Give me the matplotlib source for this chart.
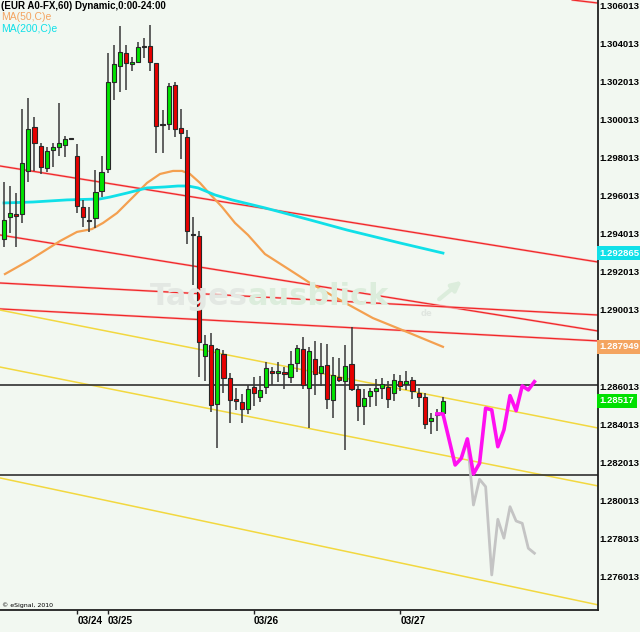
import numpy as np
import matplotlib
matplotlib.use('Agg')
import matplotlib.pyplot as plt
from matplotlib.transforms import ScaledTranslation

# hourly EUR/USD candles (open, high, low, close)
opens = [1.29361, 1.29476, 1.29492, 1.29492, 1.29718, 1.29949, 1.29849, 1.29734, 1.29828, 1.29844,
         1.29854, 1.29886, 1.29797, 1.29529, 1.29455, 1.29471, 1.29613, 1.29728, 1.30185, 1.30269,
         1.30337, 1.30279, 1.30290, 1.30368, 1.30374, 1.30284, 1.29959, 1.29964, 1.30169, 1.29943,
         1.29896, 1.29382, 1.29377, 1.28747, 1.28805, 1.28495, 1.28758, 1.28632, 1.28521, 1.28506,
         1.28469, 1.28584, 1.28532, 1.28584, 1.28668, 1.28658, 1.28663, 1.28637, 1.28710, 1.28784,
         1.28579, 1.28731, 1.28658, 1.28700, 1.28516, 1.28637, 1.28616, 1.28705, 1.28574, 1.28485,
         1.28537, 1.28563, 1.28579, 1.28584, 1.28553, 1.28616, 1.28600, 1.28621, 1.28553, 1.28532,
         1.28406, 1.28437, 1.28448]
highs = [1.29660, 1.29639, 1.29602, 1.30043, 1.30101, 1.30001, 1.29865, 1.29844, 1.29865, 1.30075,
         1.29901, 1.29886, 1.29859, 1.29566, 1.29529, 1.29723, 1.29797, 1.30337, 1.30379, 1.30479,
         1.30379, 1.30316, 1.30395, 1.30416, 1.30484, 1.30284, 1.30038, 1.30179, 1.30185, 1.30043,
         1.29933, 1.29476, 1.29403, 1.28857, 1.28868, 1.28789, 1.28779, 1.28658, 1.28579, 1.28548,
         1.28595, 1.28637, 1.28642, 1.28716, 1.28689, 1.28716, 1.28689, 1.28773, 1.28805, 1.28847,
         1.28794, 1.28826, 1.28815, 1.28810, 1.28742, 1.28737, 1.28805, 1.28899, 1.28590, 1.28574,
         1.28579, 1.28626, 1.28632, 1.28616, 1.28653, 1.28647, 1.28668, 1.28637, 1.28579, 1.28553,
         1.28448, 1.28469, 1.28532]
lows = [1.29319, 1.29392, 1.29319, 1.29445, 1.29660, 1.29718, 1.29702, 1.29713, 1.29739, 1.29797,
        1.29791, 1.29886, 1.29497, 1.29424, 1.29398, 1.29419, 1.29581, 1.29707, 1.30090, 1.30132,
        1.30143, 1.30242, 1.30284, 1.30311, 1.30242, 1.29812, 1.29812, 1.29933, 1.29896, 1.29781,
        1.29335, 1.29120, 1.28637, 1.28616, 1.28453, 1.28264, 1.28553, 1.28395, 1.28464, 1.28395,
        1.28443, 1.28485, 1.28506, 1.28548, 1.28595, 1.28611, 1.28574, 1.28605, 1.28663, 1.28574,
        1.28369, 1.28542, 1.28590, 1.28469, 1.28422, 1.28611, 1.28254, 1.28563, 1.28406, 1.28385,
        1.28479, 1.28485, 1.28521, 1.28474, 1.28511, 1.28563, 1.28569, 1.28521, 1.28479, 1.28364,
        1.28338, 1.28354, 1.28422]
closes = [1.29461, 1.29497, 1.29482, 1.29760, 1.29938, 1.29865, 1.29739, 1.29823, 1.29844, 1.29865,
          1.29886, 1.29886, 1.29534, 1.29476, 1.29455, 1.29608, 1.29713, 1.30185, 1.30279, 1.30342,
          1.30284, 1.30290, 1.30368, 1.30368, 1.30290, 1.29954, 1.29959, 1.30164, 1.29938, 1.29917,
          1.29403, 1.29382, 1.28821, 1.28810, 1.28490, 1.28784, 1.28632, 1.28516, 1.28511, 1.28469,
          1.28574, 1.28553, 1.28569, 1.28684, 1.28658, 1.28668, 1.28653, 1.28705, 1.28789, 1.28595,
          1.28773, 1.28653, 1.28695, 1.28521, 1.28647, 1.28621, 1.28695, 1.28574, 1.28485, 1.28527,
          1.28563, 1.28579, 1.28600, 1.28521, 1.28621, 1.28590, 1.28616, 1.28563, 1.28532, 1.28390,
          1.28422, 1.28443, 1.28511]

# moving averages (bar index, value)
ma50_t = [0.16, 4.26, 9.18, 11.97, 14.43, 16.24, 18.53, 21.16, 23.45, 25.59, 27.72, 29.2, 30.5,
          32.15, 33.46, 35.76, 37.89, 40.02, 42.8, 46.9, 50.19, 55.1, 60.5, 66.1, 72.0]
ma50 = [1.29177, 1.29251, 1.29350, 1.29398, 1.29413, 1.29445, 1.29497, 1.29581, 1.29655, 1.29702,
        1.29718, 1.29718, 1.29702, 1.29655, 1.29608, 1.29529, 1.29445, 1.29382, 1.29282, 1.29198,
        1.29130, 1.29041, 1.28946, 1.28873, 1.28795]
ma200_t = [0, 4.76, 10.33, 15.75, 17.39, 20.17, 23.45, 26.41, 28.54, 30.18, 31.82, 34.61, 37.4,
           42.81, 50.19, 56.26, 64.95, 72.0]
ma200 = [1.29550, 1.29555, 1.29566, 1.29571, 1.29581, 1.29602, 1.29629, 1.29634, 1.29639, 1.29639,
         1.29629, 1.29592, 1.29566, 1.29524, 1.29461, 1.29408, 1.29340, 1.29287]

# projected paths
proj_t = [71, 72, 74, 75, 76, 77, 78, 79, 80, 81, 82, 83, 84, 85, 86, 87]
proj_up = [1.28443, 1.28443, 1.28175, 1.28210, 1.28312, 1.28128, 1.28184, 1.28473, 1.28464,
           1.28271, 1.28359, 1.28539, 1.28460, 1.28590, 1.28569, 1.28612]
alt_t = [76, 77, 78, 79, 80, 81, 82, 83, 84, 85, 86, 87]
alt_down = [1.28306, 1.27965, 1.28100, 1.28061, 1.27598, 1.27890, 1.27791, 1.27956, 1.27881,
            1.27869, 1.27738, 1.27712]

# trend lines, value at left and right edge of the chart
edge_t = [-0.66, 97.43]
red_start = [1.30972, 1.29744, 1.29382, 1.29130, 1.28994]
red_end = [1.30599, 1.29240, 1.28878, 1.28962, 1.28826]
yellow_start = [1.28988, 1.28689, 1.28107]
yellow_end = [1.28369, 1.28065, 1.27441]
levels = [1.28597, 1.28123]

date_pos = [12, 17, 41, 65]
date_labels = ['03/24', '03/25', '03/26', '03/27']
price_ticks = [1.276013, 1.278013, 1.280013, 1.282013, 1.284013, 1.286013, 1.290013,
               1.292013, 1.294013, 1.296013, 1.298013, 1.300013, 1.302013, 1.304013, 1.306013]

bg = '#F2F8F1'
lab_font = 'Liberation Sans'
lab_size = 6.8

fig = plt.figure(figsize=(6.4, 6.32), dpi=100, facecolor=bg)
ax = fig.add_axes([0, 22 / 632, 598 / 640, 610 / 632], facecolor=bg)

# watermark
t1 = fig.text(150 / 640, 1 - 305 / 632, 'Tages', fontsize=22, weight='bold', color='#E3E8E3', zorder=0)
fig.canvas.draw()
bb = t1.get_window_extent()
fig.text(bb.x1 / 640, 1 - 305 / 632, 'ausblick', fontsize=22, weight='bold', color='#DCEDDC', zorder=0)
fig.text(421 / 640, 1 - 316 / 632, 'de', fontsize=6, weight='bold', color='#E0E6E0', zorder=0)
ax.annotate('', xy=(464 / 598, 1 - 279 / 610), xytext=(437 / 598, 1 - 301 / 610),
            xycoords='axes fraction', textcoords='axes fraction',
            arrowprops=dict(arrowstyle='-|>', color='#DCEDDC', lw=3, mutation_scale=14), zorder=0)

x = np.arange(len(opens))
o = np.array(opens)
c = np.array(closes)

for s, e in zip(red_start, red_end):
    ax.axline((edge_t[0], s), (edge_t[1], e), color='#F8C0C0', lw=1.7, zorder=1)
    ax.axline((edge_t[0], s), (edge_t[1], e), color='#F02828', lw=0.9, zorder=1)
for s, e in zip(yellow_start, yellow_end):
    ax.axline((edge_t[0], s), (edge_t[1], e), color='#F2D840', lw=1.1, zorder=1)
for lv in levels:
    ax.axhline(lv, color='#303030', lw=1.2, zorder=1)

ax.plot(ma50_t, ma50, color='#F4A050', lw=1.6, zorder=2)
ax.plot(ma200_t, ma200, color='#10E0E8', lw=2.0, zorder=2)

ax.vlines(x, lows, highs, color='#383838', lw=1.1, zorder=3)
body_colors = np.where(c > o, '#00E400', np.where(c < o, '#E80000', '#202020'))
ax.bar(x, np.maximum(np.abs(c - o), 0.00003), bottom=np.minimum(o, c), width=0.68,
       color=body_colors, edgecolor='#282828', lw=0.8, zorder=4)

ax.plot(alt_t, alt_down, color='#C4C4C4', lw=2.0, zorder=5)
ax.plot(proj_t, proj_up, color='#FF10F0', lw=2.6, zorder=6)

ax.set_xlim(-0.656, 97.43)
ax.set_ylim(1.27414, 1.30615)

for side in ['left', 'top']:
    ax.spines[side].set_visible(False)
for side in ['right', 'bottom']:
    ax.spines[side].set_color('#202020')
    ax.spines[side].set_linewidth(1.3)

ax.yaxis.tick_right()
ax.set_yticks(price_ticks)
ax.set_yticklabels([f'{v:.6f}' for v in price_ticks])
ax.tick_params(axis='y', length=0, pad=1.0)
shift = ScaledTranslation(0, -2.4 / 100, fig.dpi_scale_trans)
for lab in ax.get_yticklabels():
    lab.set_fontfamily(lab_font)
    lab.set_fontweight('bold')
    lab.set_fontsize(lab_size)
    lab.set_transform(lab.get_transform() + shift)

ax.set_xticks(date_pos)
ax.set_xticklabels(date_labels)
ax.tick_params(axis='x', length=3, width=1, pad=1.5, color='#202020')
for lab in ax.get_xticklabels():
    lab.set_fontfamily(lab_font)
    lab.set_fontweight('bold')
    lab.set_fontsize(7.2)
    lab.set_horizontalalignment('left')

# last values
for val, txt, col in [(ma200[-1], '1.292865', '#10E0E8'), (ma50[-1], '1.287949', '#F4A460'),
                      (closes[-1], '1.28517', '#00E000')]:
    ax.annotate(txt, xy=(1, val), xycoords=('axes fraction', 'data'), xytext=(1.3, 0),
                textcoords='offset points', ha='left', va='center', color='white',
                fontsize=lab_size, fontweight='bold', family=lab_font, annotation_clip=False,
                bbox=dict(boxstyle='square,pad=0.25', fc=col, ec='none'))

fig.text(1 / 640, 1 - 1 / 632, '(EUR A0-FX,60) Dynamic,0:00-24:00', fontsize=7, weight='bold',
         family='Liberation Sans', va='top')
fig.text(1 / 640, 1 - 17 / 632, 'MA(50,C)e', fontsize=7.5, color='#F4A460',
         family='Liberation Sans', va='center')
fig.text(1 / 640, 1 - 29 / 632, 'MA(200,C)e', fontsize=7.5, color='#10E0E8',
         family='Liberation Sans', va='center')
fig.text(2 / 640, 1 - 605 / 632, '\u00a9 eSignal, 2010', fontsize=4.5, va='center')

fig.savefig('out.png', dpi=100, facecolor=bg)
